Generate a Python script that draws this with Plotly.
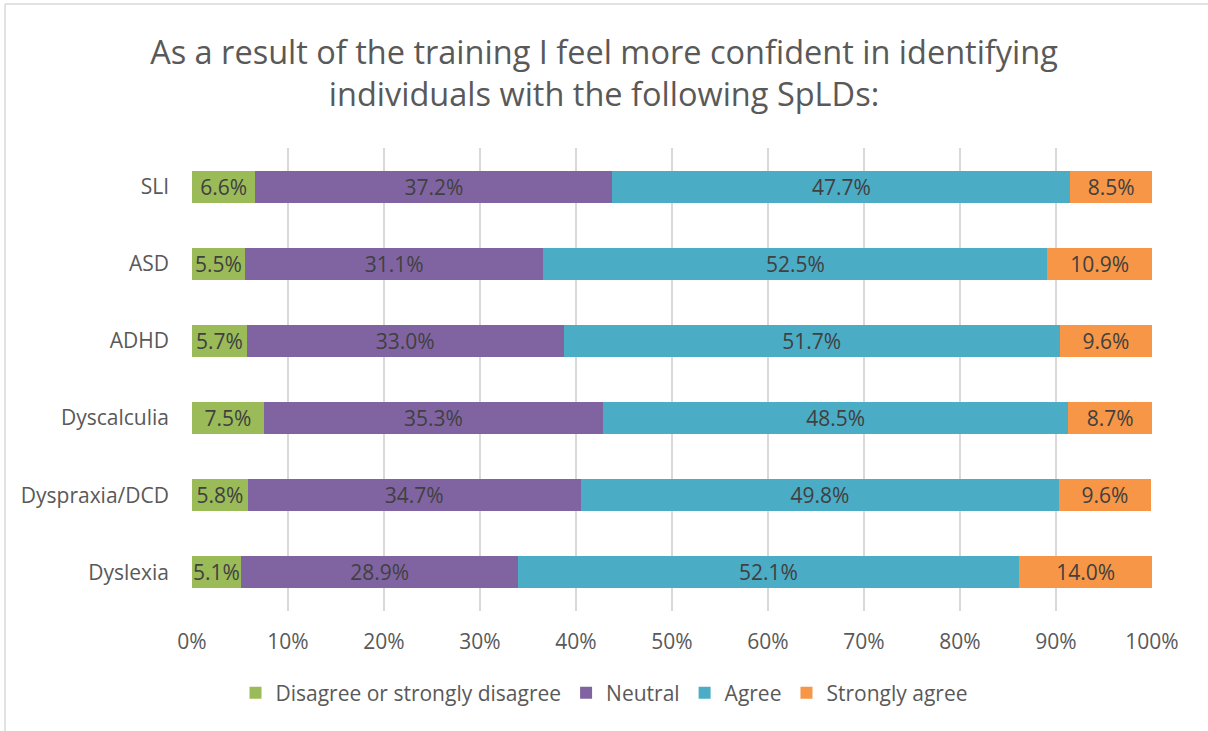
import plotly.graph_objects as go

categories = ["Dyslexia", "Dyspraxia/DCD", "Dyscalculia", "ADHD", "ASD", "SLI"]
series_names = ["Disagree or strongly disagree", "Neutral", "Agree", "Strongly agree"]
disagree = [5.1, 5.8, 7.5, 5.7, 5.5, 6.6]
neutral = [28.9, 34.7, 35.3, 33.0, 31.1, 37.2]
agree = [52.1, 49.8, 48.5, 51.7, 52.5, 47.7]
strongly_agree = [14.0, 9.6, 8.7, 9.6, 10.9, 8.5]
tick_vals = [0, 10, 20, 30, 40, 50, 60, 70, 80, 90, 100]
tick_text = [f"{v}%" for v in tick_vals]

colors = ["#9BBB59", "#8064A2", "#4BACC6", "#F79646"]
font_family = "Open Sans, Lato, sans-serif"

W, H = 1208, 731
L, R, T, B = 192, 56, 148, 120
PW, PH = W - L - R, H - T - B

fig = go.Figure()
for name, vals, col in zip(series_names, [disagree, neutral, agree, strongly_agree], colors):
    fig.add_trace(go.Bar(
        y=categories, x=vals, name=name, orientation="h",
        marker=dict(color=col, line=dict(width=0)),
        text=[f"{v:.1f}%" for v in vals],
        textposition="inside", insidetextanchor="middle",
        constraintext="none",
        textfont=dict(family=font_family, size=21, color="#404040"),
        hoverinfo="x+y+name",
    ))

fig.update_layout(
    barmode="stack",
    bargap=0.585,
    width=W, height=H,
    paper_bgcolor="white", plot_bgcolor="white",
    margin=dict(l=L, r=R, t=T, b=B),
    title=dict(
        text="As a result of the training I feel more confident in identifying<br>individuals with the following SpLDs:",
        x=0.5, xanchor="center", xref="container",
        y=1 - 64 / H, yanchor="middle", yref="container",
        font=dict(family=font_family, size=32.5, color="#595959"),
    ),
    legend=dict(
        orientation="h", x=0.5, xanchor="center", xref="container",
        y=1 - 693 / H, yanchor="middle", yref="container",
        font=dict(family=font_family, size=21, color="#595959"),
        traceorder="normal", itemsizing="constant",
        itemwidth=30,
    ),
    xaxis=dict(
        range=[0, 100], tickvals=tick_vals, ticktext=tick_text,
        showgrid=True, gridcolor="#D9D9D9", gridwidth=2,
        zeroline=False, showline=False,
        tickfont=dict(family=font_family, size=21, color="#595959"),
        ticklabelstandoff=16,
    ),
    yaxis=dict(
        categoryorder="array", categoryarray=categories,
        showgrid=False, zeroline=False, showline=False,
        tickfont=dict(family=font_family, size=21, color="#595959"),
        ticklabelstandoff=22,
    ),
    shapes=[
        dict(type="line", xref="paper", yref="paper",
             x0=(5 - L) / PW, x1=(5 - L) / PW,
             y0=(H - 4 - B) / PH, y1=(-B - 5) / PH,
             line=dict(color="#D9D9D9", width=1.5), layer="below"),
        dict(type="line", xref="paper", yref="paper",
             x0=(5 - L) / PW, x1=(W + 5 - L) / PW,
             y0=(H - 4 - B) / PH, y1=(H - 4 - B) / PH,
             line=dict(color="#D9D9D9", width=1.5), layer="below"),
    ],
)

fig.write_html("out.html", config={"displayModeBar": False},
               post_script="document.body.style.margin='0';")
